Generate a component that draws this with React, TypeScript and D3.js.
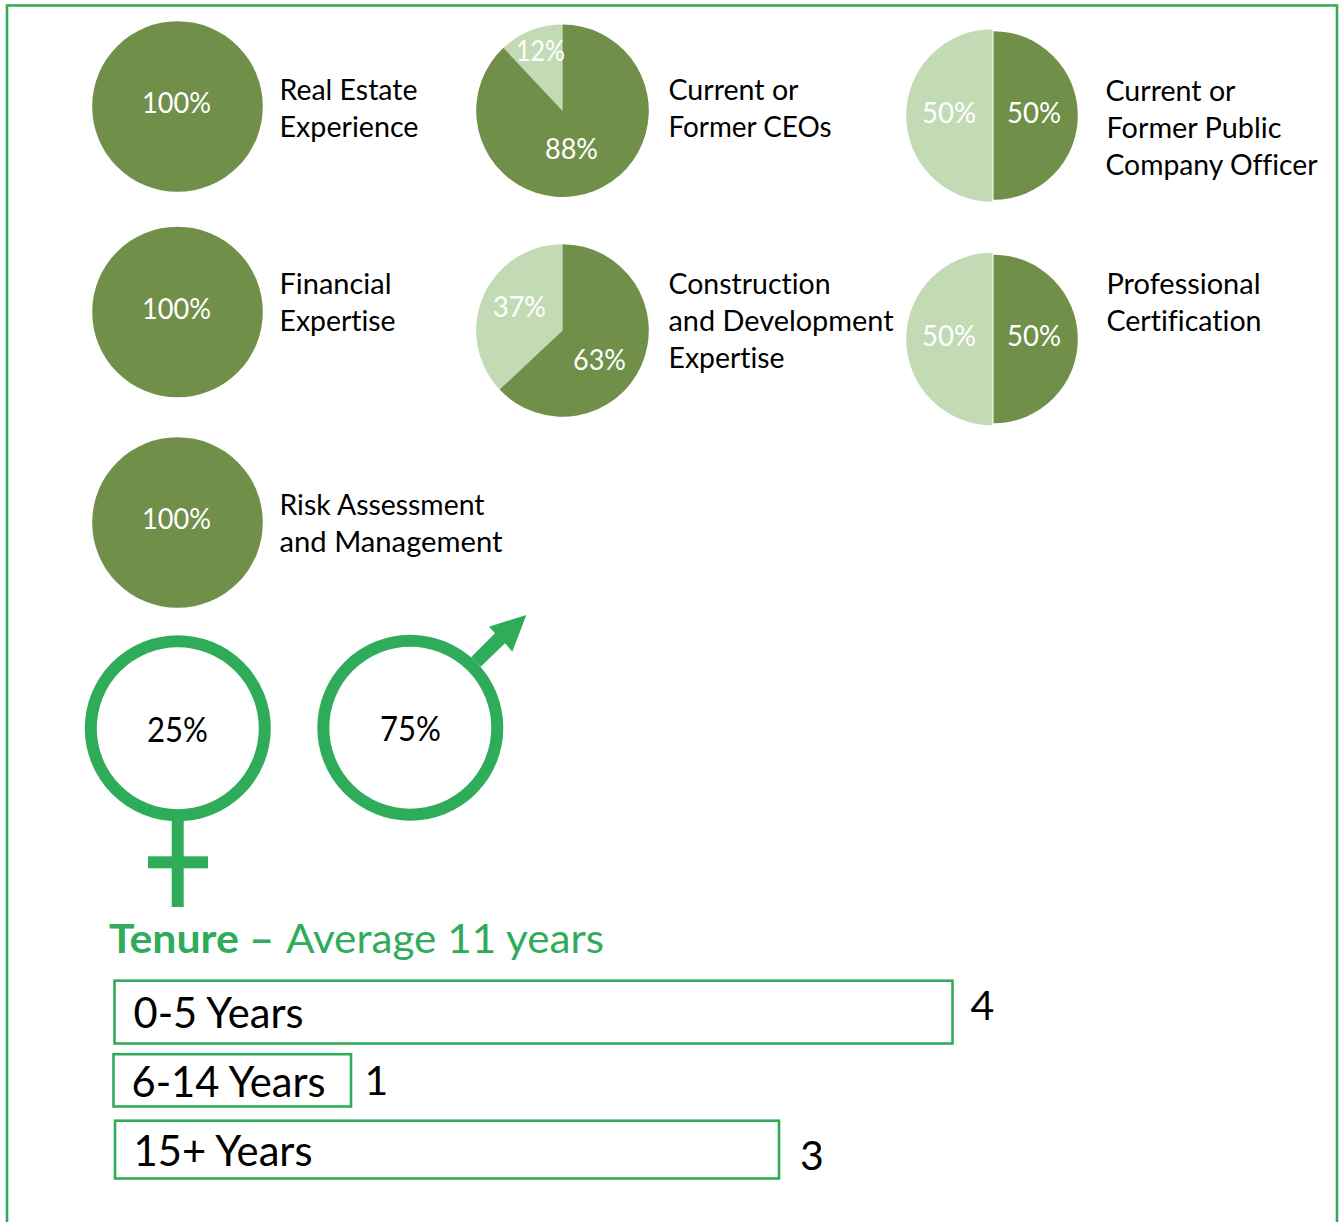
import React from "react";
import * as d3 from "d3";

// ---- data ----
const pieTitles = [
  ["Real Estate", "Experience"],
  ["Current or", "Former CEOs"],
  ["Current or", "Former Public", "Company Officer"],
  ["Financial", "Expertise"],
  ["Construction", "and Development", "Expertise"],
  ["Professional", "Certification"],
  ["Risk Assessment", "and Management"],
];
const yesValues = [100, 88, 50, 100, 63, 50, 100];
const noValues = [0, 12, 50, 0, 37, 50, 0];
const genderLabels = [25, 75];
const tenureCategories = ["0-5 Years", "6-14 Years", "15+ Years"];
const tenureValues = [4, 1, 3];

// ---- layout ----
const GREEN = "#2fac5a";
const DARK = "#708f49";
const LIGHT = "#c3dbb4";
const FONT = "Lato, Carlito, sans-serif";
type L = { cx: number; cy: number; r: number; rDark?: number; cxDark?: number; yes: number[]; no?: number[]; lines: number[][] };
const pieLayout: L[] = [
  { cx: 177.5, cy: 106.5, r: 85.3, yes: [176.5, 112.6, 69], lines: [[279.5, 99.6, 138], [279.5, 136.6, 139]] },
  { cx: 562.5, cy: 110.7, r: 86.3, yes: [571.5, 158.6, 53], no: [540.5, 60.6, 49], lines: [[668.5, 99.8, 130], [668.5, 136.8, 163]] },
  { cx: 992.5, cy: 115.5, r: 86.3, rDark: 84.3, cxDark: 993.5, yes: [1034, 122.6, 54], no: [949, 122.6, 54], lines: [[1105.5, 100.8, 130], [1106.5, 137.8, 175], [1105.5, 174.8, 212]] },
  { cx: 177.5, cy: 312, r: 85.3, yes: [176.5, 318.6, 69], lines: [[279.5, 293.6, 112], [279.5, 330.6, 116]] },
  { cx: 562.5, cy: 330.5, r: 86.3, yes: [599.5, 369.6, 53], no: [519.5, 316.6, 53], lines: [[668.5, 293.6, 162], [668.5, 330.6, 225], [668.5, 367.6, 116]] },
  { cx: 992.5, cy: 339, r: 86.3, rDark: 84.3, cxDark: 993.5, yes: [1034, 345.6, 54], no: [949, 345.6, 54], lines: [[1106.5, 293.6, 154], [1106.5, 330.6, 155]] },
  { cx: 177.5, cy: 522.5, r: 85.3, yes: [176.5, 528.6, 69], lines: [[279.5, 514.6, 205], [279.5, 551.6, 223]] },
];
const barLayout = [
  { x: 114.5, y: 980.7, h: 62.8, tx: 133.5, ty: 1027.6, tw: 170, vx: 982.5, vy: 1020 },
  { x: 113.5, y: 1054.2, h: 52.3, tx: 131.5, ty: 1097, tw: 194, vx: 376.5, vy: 1095 },
  { x: 115, y: 1120.7, h: 57.8, tx: 133.5, ty: 1165.6, tw: 179, vx: 811.8, vy: 1170 },
];
const barWidth = d3.scaleLinear().domain([1, 3, 4]).range([237.5, 664, 838]);
const pie = d3.pie<number>().sort(null);

function T({ x, y, w, size, fill = "#000", anchor = "start", weight = 400, children }: any) {
  return (
    <text x={x} y={y} fontSize={size} fill={fill} textAnchor={anchor} fontWeight={weight} fontFamily={FONT}
      textLength={w} lengthAdjust="spacingAndGlyphs" style={{ fontVariantLigatures: "none" }}>
      {children}
    </text>
  );
}

function Pie({ i }: { i: number }) {
  const l = pieLayout[i];
  const arcs = pie([yesValues[i], noValues[i]]);
  const yesArc = d3.arc()({ innerRadius: 0, outerRadius: l.rDark ?? l.r, startAngle: arcs[0].startAngle, endAngle: arcs[0].endAngle }) as string;
  const noArc = d3.arc()({ innerRadius: 0, outerRadius: l.r, startAngle: arcs[1].startAngle, endAngle: arcs[1].endAngle }) as string;
  return (
    <g>
      {noValues[i] > 0 && <path d={noArc} transform={`translate(${l.cx},${l.cy})`} fill={LIGHT} />}
      <path d={yesArc} transform={`translate(${l.cxDark ?? l.cx},${l.cy})`} fill={DARK} />
      <T x={l.yes[0]} y={l.yes[1]} w={l.yes[2]} size={28} fill="#fff" anchor="middle">{`${yesValues[i]}%`}</T>
      {l.no && <T x={l.no[0]} y={l.no[1]} w={l.no[2]} size={28} fill="#fff" anchor="middle">{`${noValues[i]}%`}</T>}
      {pieTitles[i].map((s, k) => (
        <T key={k} x={l.lines[k][0]} y={l.lines[k][1]} w={l.lines[k][2]} size={28}>{s}</T>
      ))}
    </g>
  );
}

export default function App() {
  return (
    <svg width={1339} height={1222} style={{ position: "absolute", left: 0, top: 0, background: "#fff" }}>
      <rect x={7} y={5.5} width={1330} height={1240} fill="none" stroke={GREEN} strokeWidth={2.6} />
      {pieTitles.map((_, i) => <Pie key={i} i={i} />)}

      {/* female */}
      <circle cx={177.8} cy={728.3} r={87} fill="none" stroke={GREEN} strokeWidth={12} />
      <rect x={171.7} y={815} width={12} height={92} fill={GREEN} />
      <rect x={148} y={856.3} width={60} height={12} fill={GREEN} />
      <T x={177.5} y={742} w={61} size={34} anchor="middle">{`${genderLabels[0]}%`}</T>

      {/* male */}
      <circle cx={410.3} cy={727.8} r={87} fill="none" stroke={GREEN} strokeWidth={12} />
      <path d="M471,657.3 L495,633.3 L489,626.7 L526.3,615 L512.3,651.7 L505,643.3 L480.7,666.7 Z" fill={GREEN} />
      <T x={410.5} y={741} w={61} size={34} anchor="middle">{`${genderLabels[1]}%`}</T>

      {/* tenure */}
      <T x={109} y={953} w={165} size={41} fill={GREEN} weight={700}>Tenure –</T>
      <T x={286} y={953} w={318} size={41} fill={GREEN}>Average 11 years</T>
      {tenureCategories.map((c, i) => {
        const b = barLayout[i];
        return (
          <g key={c}>
            <rect x={b.x} y={b.y} width={barWidth(tenureValues[i])} height={b.h} fill="#fff" stroke={GREEN} strokeWidth={2.6} />
            <T x={b.tx} y={b.ty} w={b.tw} size={42}>{c}</T>
            <T x={b.vx} y={b.vy} size={41} anchor="middle">{tenureValues[i]}</T>
          </g>
        );
      })}
    </svg>
  );
}
